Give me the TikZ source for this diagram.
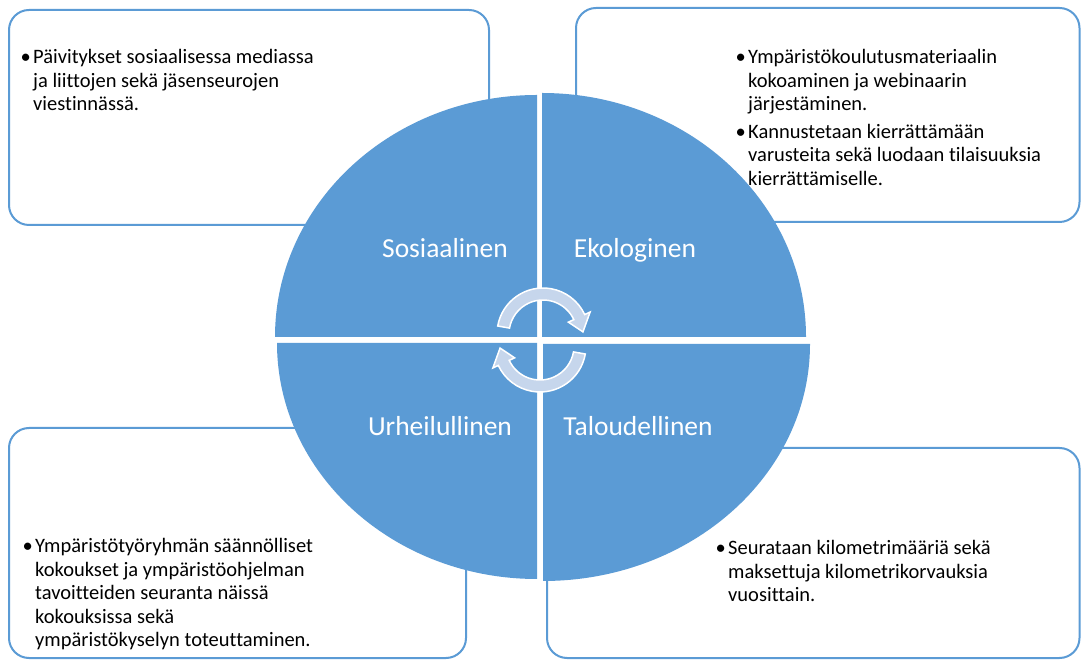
\documentclass[tikz,border=0pt]{standalone}
\usepackage{fontspec}
\setmainfont[Ligatures=NoCommon]{Carlito}
\usetikzlibrary{calc}
\definecolor{accent}{RGB}{91,155,213}
\definecolor{arrowfill}{RGB}{198,214,236}
\newcommand\bul{\llap{\makebox[15pt][c]{\textbullet}}}
\newcommand\cyclearrow[3]{%
  \filldraw[cyclearrowstyle]
    ($(#1)+(#2:46)$) arc[start angle=#2, end angle=#3, radius=46]
    -- ($(#1)+(#3:52)$) -- ($(#1)+({#3-22}:40)$) -- ($(#1)+(#3:28)$)
    -- ($(#1)+(#3:34)$) arc[start angle=#3, end angle=#2, radius=34] -- cycle;}
\begin{document}
\begin{tikzpicture}[x=1pt,y=1pt,
  infobox/.style={draw=accent, line width=2pt, fill=white, rounded corners=20pt},
  quadrant/.style={fill=accent},
  cyclearrowstyle/.style={fill=arrowfill, draw=white, line width=1.5pt, line join=miter},
  label/.style={text=white, font=\fontsize{27.5}{33}\selectfont, inner sep=0pt, anchor=base},
  bodytext/.style={inner sep=0pt, anchor=base west, font=\fontsize{20.5}{23.5}\selectfont}]
\useasboundingbox (0,0) rectangle (1081,661);
% boxes
\draw[infobox] (9,436) rectangle (489,651);
\draw[infobox] (576,439) rectangle (1079.5,653);
\draw[infobox] (9,3) rectangle (466,233);
\draw[infobox] (547,3) rectangle (1079.5,213);
% quadrants
\fill[quadrant] (537,324) -- (275,324) arc[start angle=180, end angle=90, x radius=262, y radius=242] -- cycle;
\fill[quadrant] (542,324) -- (806,324) arc[start angle=0, end angle=90, x radius=264, y radius=244] -- cycle;
\fill[quadrant] (537,318) -- (277,318) arc[start angle=180, end angle=270, x radius=260, y radius=236] -- cycle;
\fill[quadrant] (543,317) -- (810,317) arc[start angle=0, end angle=-90, x radius=267, y radius=237] -- cycle;
% cycle arrows
\coordinate (cu) at (543,327);
\coordinate (cl) at (540,315);
\cyclearrow{cu}{170}{25}
\cyclearrow{cl}{-10}{-155}
% labels
\node[label] (sos) at (445,403) {Sosiaalinen};
\node[label] (eko) at (635,403) {Ekologinen};
\node[label] (urh) at (440,225) {Urheilullinen};
\node[label] (tal) at (638,225) {Taloudellinen};
% texts
\node[bodytext] (ttl) at (33,597) {\begin{tabular}[t]{@{}l@{}}
\bul Päivitykset sosiaalisessa mediassa\\
ja liittojen sekä jäsenseurojen\\
viestinnässä.
\end{tabular}};
\node[bodytext] (ttr) at (748,597) {\begin{tabular}[t]{@{}l@{}}
\bul Ympäristökoulutusmateriaalin\\
kokoaminen ja webinaarin\\
järjestäminen.\\[4pt]
\bul Kannustetaan kierrättämään\\
varusteita sekä luodaan tilaisuuksia\\
kierrättämiselle.
\end{tabular}};
\node[bodytext] (tbl) at (35,108) {\begin{tabular}[t]{@{}l@{}}
\bul Ympäristötyöryhmän säännölliset\\
kokoukset ja ympäristöohjelman\\
tavoitteiden seuranta näissä\\
kokouksissa sekä\\
ympäristökyselyn toteuttaminen.
\end{tabular}};
\node[bodytext] (tbr) at (728,106) {\begin{tabular}[t]{@{}l@{}}
\bul Seurataan kilometrimääriä sekä\\
maksettuja kilometrikorvauksia\\
vuosittain.
\end{tabular}};
\end{tikzpicture}
\end{document}
